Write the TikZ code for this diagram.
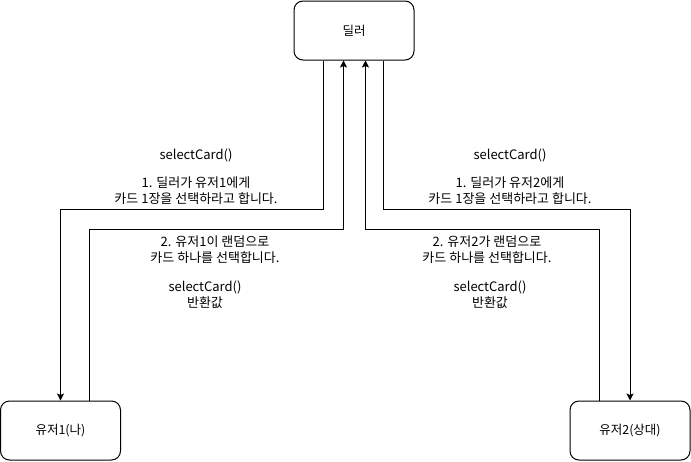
\documentclass[tikz,border=0pt]{standalone}
\usepackage{fontspec}
\setmainfont{Noto Sans CJK KR}
\usetikzlibrary{arrows.meta}
\begin{document}
\begin{tikzpicture}[x=1pt,y=-1pt,
  box/.style={draw,line width=1pt,rounded corners=9pt,minimum width=120pt,minimum height=59pt,inner sep=0pt,font=\fontsize{12.5}{15}\selectfont},
  conn/.style={line width=1pt},
  arr/.style={conn,-{Stealth[length=7pt,width=7pt,inset=1.5pt]}},
  lbl/.style={align=center,font=\fontsize{13}{15.5}\selectfont,inner sep=0pt}]
\useasboundingbox (0,0) rectangle (691,461);
\node[box] (dealer) at (354,30.5) {딜러};
\node[box] (u1) at (60.5,430.5) {유저1(나)};
\node[box] (u2) at (630,430.5) {유저2(상대)};
\coordinate (ya) at (0,209.5);
\coordinate (yb) at (0,229.5);
\coordinate (d1) at ([xshift=30pt]dealer.south west);
\coordinate (d2) at ([xshift=50pt]dealer.south west);
\coordinate (d3) at ([xshift=72pt]dealer.south west);
\coordinate (d4) at ([xshift=90pt]dealer.south west);
\coordinate (a1) at ([xshift=89pt]u1.north west);
\coordinate (b1) at ([xshift=30pt]u2.north west);
\draw[arr] (d1) |- (ya -| u1.north) -- (u1.north);
\draw[arr] (a1) |- (yb -| d2) -- (d2);
\draw[arr] (d4) |- (ya -| u2.north) -- (u2.north);
\draw[arr] (b1) |- (yb -| d3) -- (d3);
\node[lbl] (l1) at (196,176.5) {selectCard()\\[12.5pt]1. 딜러가 유저1에게\\카드 1장을 선택하라고 합니다.};
\node[lbl] (l2) at (215,249.5) {2. 유저1이 랜덤으로\\카드 하나를 선택합니다.};
\node[lbl] (l3) at (205,294.5) {selectCard()\\반환값};
\node[lbl] (r1) at (510,176.5) {selectCard()\\[12.5pt]1. 딜러가 유저2에게\\카드 1장을 선택하라고 합니다.};
\node[lbl] (r2) at (487,249.5) {2. 유저2가 랜덤으로\\카드 하나를 선택합니다.};
\node[lbl] (r3) at (490,294.5) {selectCard()\\반환값};
\end{tikzpicture}
\end{document}
